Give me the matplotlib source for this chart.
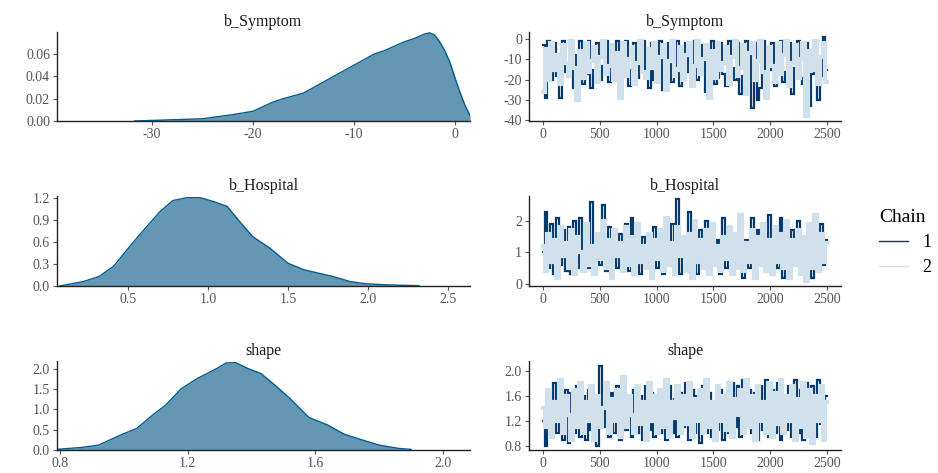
import matplotlib
matplotlib.use("Agg")
import matplotlib.pyplot as plt
from matplotlib.lines import Line2D
import numpy as np

plt.rcParams["font.family"] = ["Liberation Serif", "DejaVu Serif"]
plt.rcParams["axes.unicode_minus"] = False

# posterior densities (x grid, density)
sym_x = [-31.7, -30, -25, -22, -20, -18, -17, -15, -13, -12, -10, -8, -7, -6, -5, -4,
         -3, -2.5, -2, -1.5, -1, -0.5, 0, 0.5, 1, 1.5]
sym_d = [0.0, 0.0005, 0.002, 0.0057, 0.0087, 0.017, 0.020, 0.025, 0.035, 0.040, 0.050,
         0.060, 0.063, 0.067, 0.071, 0.074, 0.078, 0.079, 0.077, 0.071, 0.063, 0.053,
         0.039, 0.026, 0.014, 0.005]

hos_x = [0.072, 0.22, 0.32, 0.41, 0.5, 0.59, 0.70, 0.78, 0.87, 0.95, 1.03, 1.12, 1.20,
         1.28, 1.39, 1.50, 1.60, 1.70, 1.78, 1.89, 1.99, 2.08, 2.20, 2.32]
hos_d = [0.0, 0.06, 0.13, 0.27, 0.51, 0.74, 1.01, 1.16, 1.20, 1.20, 1.15, 1.08, 0.87,
         0.67, 0.51, 0.31, 0.22, 0.17, 0.13, 0.06, 0.03, 0.02, 0.01, 0.005]

shp_x = [0.79, 0.87, 0.92, 0.99, 1.04, 1.09, 1.13, 1.18, 1.23, 1.29, 1.32, 1.35, 1.39,
         1.43, 1.48, 1.52, 1.58, 1.64, 1.69, 1.75, 1.80, 1.86, 1.90]
shp_d = [0.016, 0.065, 0.12, 0.37, 0.53, 0.86, 1.10, 1.51, 1.76, 2.0, 2.14, 2.15, 2.0,
         1.88, 1.55, 1.27, 0.80, 0.61, 0.39, 0.24, 0.12, 0.04, 0.016]

# thinned trace draws, chain 1 and chain 2
sym_c1 = [-3, -29, -1, -20, -2, -18, -29, -1, -16, -14, -2, -24, -8, -1, -22, -17, -1, -24,
          -15, -2, -20, -13, -1, -21, -7, -19, -1, -26, -16, -1, -23, -15, -2, -19, -11, -1,
          -18, -24, -2, -20, -14, -1, -25, -17, -2, -21, -13, -1, -23, -18, -2, -16, -22, -1,
          -20, -12, -3, -26, -15, -1, -22, -19, -2, -17, -23, -1, -14, -20, -2, -27, -18, -1,
          -8, -34, -2, -30, -24, -1, -19, -15, -2, -23, -13, -1, -21, -16, -2, -27, -14, -1,
          -19, -22, -2, -33, -17, -1, -30, -18, 1, -15]
sym_c2 = [-26, -5, -20, -2, -15, -8, -22, -3, -12, -18, -1, -14, -30, -6, -19, -2, -16, -11,
          -4, -21, -9, -1, -17, -13, -3, -20, -7, -29, -2, -18, -10, -4, -22, -12, -1, -16,
          -19, -5, -14, -2, -21, -9, -3, -25, -11, -1, -18, -15, -4, -20, -8, -2, -23, -13,
          -1, -17, -10, -3, -29, -6, -19, -2, -15, -12, -4, -22, -9, -1, -18, -14, -3, -27,
          -7, -2, -20, -11, -1, -16, -29, -4, -13, -21, -2, -17, -8, -1, -23, -12, -3, -19,
          -10, -2, -38, -6, -15, -1, -22, -9, -2, -21]

hos_c1 = [1.0, 2.3, 0.5, 1.9, 0.3, 2.1, 0.6, 1.7, 0.4, 1.8, 0.3, 2.0, 0.5, 2.1, 0.4, 1.6,
          0.5, 2.6, 0.3, 1.5, 0.6, 2.5, 0.4, 1.8, 0.2, 1.7, 0.5, 1.6, 0.6, 1.9, 0.4, 2.1,
          0.5, 1.7, 0.3, 1.5, 0.6, 1.4, 0.2, 1.8, 0.5, 1.6, 0.3, 1.3, 0.7, 1.9, 0.4, 2.7,
          0.3, 1.5, 0.5, 2.3, 0.6, 1.9, 0.3, 1.7, 0.5, 2.0, 0.4, 1.6, 0.6, 1.4, 0.3, 2.1,
          0.5, 1.8, 0.4, 1.2, 0.6, 1.5, 0.2, 1.4, 0.5, 2.1, 0.3, 1.7, 0.6, 1.9, 0.4, 2.2,
          0.3, 1.6, 0.5, 2.1, 0.2, 1.8, 0.4, 1.7, 0.6, 2.0, 0.3, 1.5, 0.5, 1.8, 0.2, 1.4,
          0.4, 1.9, 0.6, 1.4]
hos_c2 = [1.2, 0.4, 1.6, 0.7, 1.4, 0.2, 1.8, 0.9, 1.3, 0.5, 1.7, 0.3, 1.5, 1.0, 0.4, 1.9,
          0.6, 1.2, 0.3, 1.6, 0.8, 2.0, 0.5, 1.4, 0.2, 1.7, 0.9, 1.3, 0.4, 1.8, 0.6, 1.5,
          0.3, 1.9, 0.7, 1.2, 0.5, 1.6, 0.2, 1.4, 0.8, 1.7, 0.4, 2.1, 0.6, 1.3, 0.3, 1.8,
          0.9, 1.5, 0.4, 1.6, 0.2, 2.0, 0.7, 1.4, 0.5, 1.7, 0.3, 1.9, 0.6, 1.2, 0.4, 1.5,
          0.8, 1.8, 0.3, 1.6, 0.5, 2.2, 0.4, 1.3, 0.7, 1.7, 0.2, 1.5, 0.6, 1.9, 0.4, 1.4,
          0.3, 1.8, 0.7, 1.6, 0.5, 2.0, 0.2, 1.4, 0.6, 1.7, 0.3, 1.5, 0.1, 1.9, 0.5, 2.2,
          0.4, 1.6, 0.7, 1.3]

shp_c1 = [1.2, 0.8, 1.6, 0.95, 1.8, 1.0, 1.6, 0.9, 1.7, 0.85, 1.65, 1.0, 1.75, 0.95, 1.6,
          0.9, 1.7, 1.05, 1.55, 0.8, 2.08, 1.1, 1.5, 0.95, 1.65, 1.0, 1.75, 0.9, 1.8, 1.05,
          1.3, 0.95, 1.7, 1.0, 1.6, 0.9, 1.75, 1.05, 1.65, 0.95, 1.6, 1.0, 1.7, 0.9, 1.75,
          1.0, 1.55, 0.95, 1.65, 1.1, 1.8, 0.9, 1.7, 1.0, 1.6, 0.85, 1.75, 1.0, 1.65, 0.95,
          1.45, 1.05, 1.7, 0.9, 1.6, 1.0, 1.8, 1.1, 1.75, 0.95, 1.85, 1.25, 1.7, 1.0, 1.65,
          0.9, 1.75, 1.05, 1.85, 0.95, 1.7, 1.0, 1.8, 0.9, 1.6, 1.05, 1.75, 0.95, 1.85, 1.0,
          1.7, 0.9, 1.8, 1.05, 1.75, 0.95, 1.85, 1.15, 1.45, 1.6]
shp_c2 = [1.4, 1.1, 1.7, 0.95, 1.5, 1.2, 1.85, 1.0, 1.6, 1.3, 0.9, 1.7, 1.1, 1.8, 1.0, 1.5,
          1.2, 1.75, 0.9, 1.6, 1.1, 1.4, 1.8, 1.0, 1.55, 1.2, 1.7, 0.95, 1.9, 1.1, 1.6, 1.3,
          1.0, 1.75, 1.15, 1.5, 0.9, 1.8, 1.2, 1.6, 1.0, 1.7, 1.1, 1.85, 0.95, 1.5, 1.25,
          1.75, 1.0, 1.6, 1.15, 1.8, 0.95, 1.55, 1.2, 1.7, 1.0, 1.85, 1.1, 1.5, 0.9, 1.75,
          1.2, 1.6, 1.05, 1.8, 0.95, 1.55, 1.3, 1.7, 1.0, 1.85, 1.1, 1.6, 0.9, 1.75, 1.2,
          1.5, 1.0, 1.8, 0.95, 1.65, 1.15, 1.85, 1.0, 1.6, 1.2, 1.75, 0.9, 1.55, 1.1, 1.8,
          0.95, 1.7, 0.85, 1.6, 1.2, 1.75, 0.9, 1.5]

params = ["b_Symptom", "b_Hospital", "shape"]
dens = [(sym_x, sym_d), (hos_x, hos_d), (shp_x, shp_d)]
traces = [(sym_c1, sym_c2), (hos_c1, hos_c2), (shp_c1, shp_c2)]

dens_xlim = [(-39.4, 1.5), (0.055, 2.64), (0.79, 2.085)]
dens_ylim = [(0, 0.0798), (0, 1.222), (0, 2.19)]
dens_xticks = [[-30, -20, -10, 0], [0.5, 1.0, 1.5, 2.0, 2.5], [0.8, 1.2, 1.6, 2.0]]
dens_yticks = [[0.0, 0.02, 0.04, 0.06], [0.0, 0.3, 0.6, 0.9, 1.2], [0.0, 0.5, 1.0, 1.5, 2.0]]
dens_fmt = ["{:.2f}", "{:.1f}", "{:.1f}"]

trace_ylim = [(-40.3, 3.5), (-0.07, 2.8), (0.735, 2.155)]
trace_yticks = [[-40, -30, -20, -10, 0], [0, 1, 2], [0.8, 1.2, 1.6, 2.0]]
trace_fmt = ["{:.0f}", "{:.0f}", "{:.1f}"]

fill_col = "#6497b1"
edge_col = "#005b96"
chain_cols = ["#03396c", "#d1e1ec"]
chain_lw = [1.6, 3.0]
tick_col = "#555555"

W, H = 938, 473
fig = plt.figure(figsize=(W / 100, H / 100), dpi=100)

rows_px = [(32, 121), (196, 286), (361, 450)]


def style(ax):
    for s in ["top", "right"]:
        ax.spines[s].set_visible(False)
    for s in ["left", "bottom"]:
        ax.spines[s].set_linewidth(1.0)
        ax.spines[s].set_color("#222222")
    ax.tick_params(length=3, width=0.8, color=tick_col, labelcolor=tick_col,
                   labelsize=10, pad=2)


for i, name in enumerate(params):
    top, bot = rows_px[i]
    b = 1 - bot / H
    h = (bot - top) / H

    # density
    ax = fig.add_axes([57 / W, b, (470 - 57) / W, h])
    x, d = dens[i]
    ax.fill_between(x, 0, d, color=fill_col, lw=0)
    ax.plot(x, d, color=edge_col, lw=1.0)
    ax.set_xlim(*dens_xlim[i])
    ax.set_ylim(*dens_ylim[i])
    ax.set_xticks(dens_xticks[i])
    ax.set_xticklabels([("{:g}" if i == 0 else "{:.1f}").format(v) for v in dens_xticks[i]])
    ax.set_yticks(dens_yticks[i])
    ax.set_yticklabels([dens_fmt[i].format(v) for v in dens_yticks[i]])
    ax.set_title(name, fontsize=11.5, color="#1a1a1a", pad=4)
    style(ax)

    # trace (chain 2 drawn over chain 1)
    ax = fig.add_axes([529 / W, b, (841 - 529) / W, h])
    for c, vals in enumerate(traces[i]):
        it = np.linspace(1, 2500, len(vals))
        ax.plot(it, vals, color=chain_cols[c], lw=chain_lw[c],
                drawstyle="steps-mid", solid_joinstyle="miter")
    ax.set_xlim(-124, 2625)
    ax.set_ylim(*trace_ylim[i])
    ax.set_xticks([0, 500, 1000, 1500, 2000, 2500])
    ax.set_yticks(trace_yticks[i])
    ax.set_yticklabels([trace_fmt[i].format(v) for v in trace_yticks[i]])
    ax.set_title(name, fontsize=11.5, color="#1a1a1a", pad=4)
    style(ax)

handles = [Line2D([], [], color=chain_cols[0], lw=1.0),
           Line2D([], [], color=chain_cols[1], lw=1.0)]
leg = fig.legend(handles, ["1", "2"], title="Chain", loc="upper left",
                 bbox_to_anchor=(872 / W, 1 - 202 / H), frameon=False,
                 fontsize=13, title_fontsize=14, handlelength=1.6,
                 labelspacing=0.45, handletextpad=0.8, borderaxespad=0)
leg._legend_box.align = "left"

fig.savefig("out.png", dpi=100)
